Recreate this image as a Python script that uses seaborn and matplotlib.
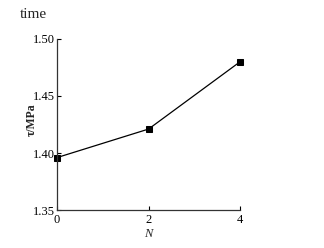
import matplotlib
matplotlib.use("Agg")
import matplotlib.pyplot as plt
import seaborn as sns
import pandas as pd

N = [0, 2, 4]
tau = [1.396, 1.421, 1.480]
xticks = [0, 2, 4]
yticks = [1.35, 1.40, 1.45, 1.50]

sns.set_theme(style="ticks")
plt.rcParams['font.family'] = ['Liberation Serif', 'DejaVu Serif']

df = pd.DataFrame({"N": N, "tau": tau})
fig = plt.figure(figsize=(3.24, 2.48), dpi=100)
ax = fig.add_axes([0.176, 0.153, 0.565, 0.69])
sns.lineplot(data=df, x="N", y="tau", ax=ax, color="black", linewidth=0.9,
             marker="s", markersize=4.5, markeredgecolor="black", markerfacecolor="black",
             clip_on=False)
ax.set_xlim(0, 4)
ax.set_ylim(1.35, 1.50)
ax.set_xticks(xticks)
ax.set_xticklabels([str(v) for v in xticks])
ax.set_yticks(yticks)
ax.set_yticklabels([f"{v:.2f}" for v in yticks])
ax.tick_params(axis="both", direction="in", length=3, width=0.8, labelsize=9, colors="black")
ax.tick_params(axis="x", pad=2.5)
ax.tick_params(axis="y", pad=1.5)
for s in ["top", "right"]:
    ax.spines[s].set_visible(False)
for s in ["left", "bottom"]:
    ax.spines[s].set_linewidth(0.9)
    ax.spines[s].set_color("#333333")
ax.set_xlabel("N", fontsize=9, style="italic", labelpad=1.5)
ax.set_ylabel("τ/MPa", fontsize=8.5, fontweight="bold", labelpad=1)
ax.yaxis.set_label_coords(-0.105, 0.53)
fig.text(0.062, 0.94, "time", fontsize=11, va="center", ha="left")
fig.savefig("out.png", dpi=100)
